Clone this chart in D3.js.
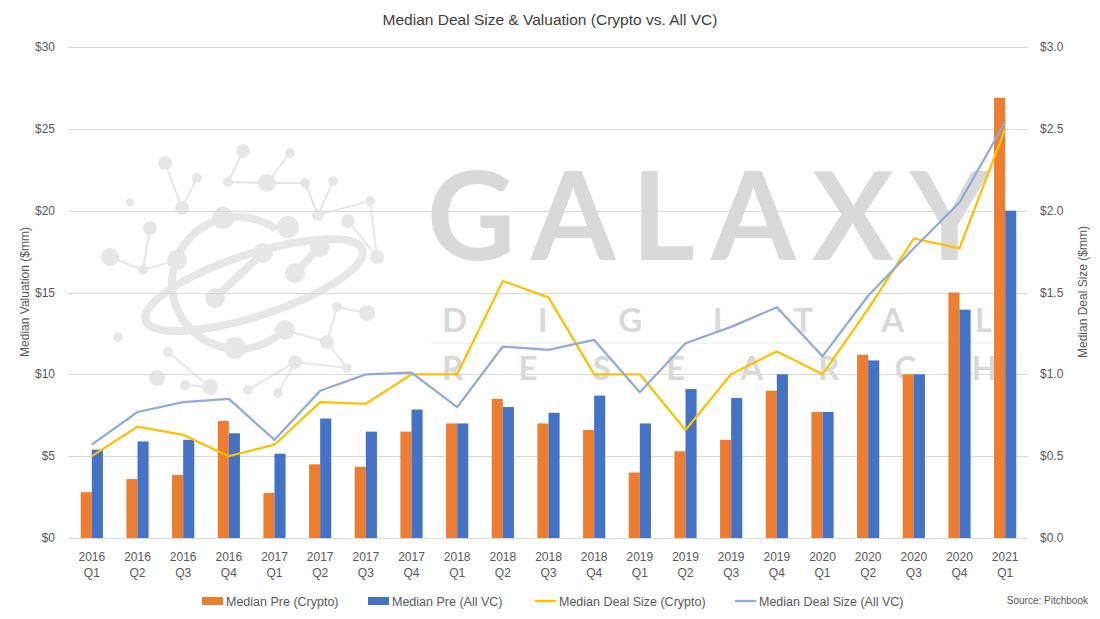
<!doctype html>
<html lang="en">
<head>
  <meta charset="utf-8">
  <script src="https://d3js.org/d3.v7.min.js"></script>
  <style>
    body { margin: 0; background: #fff; }
    text { font-family: "Liberation Sans", Arial, sans-serif; }
  </style>
</head>
<body>
  <script>
    // ---- data ----
    var years = ["2016","2016","2016","2016","2017","2017","2017","2017","2018","2018","2018","2018",
                 "2019","2019","2019","2019","2020","2020","2020","2020","2021"];
    var quarters = ["Q1","Q2","Q3","Q4","Q1","Q2","Q3","Q4","Q1","Q2","Q3","Q4",
                    "Q1","Q2","Q3","Q4","Q1","Q2","Q3","Q4","Q1"];
    var preCrypto = [2.8, 3.6, 3.85, 7.15, 2.75, 4.5, 4.35, 6.5, 7.0, 8.5, 7.0, 6.6,
                     4.0, 5.3, 6.0, 9.0, 7.7, 11.2, 10.0, 15.0, 26.9];
    var preAllVC = [5.4, 5.9, 6.0, 6.4, 5.15, 7.3, 6.5, 7.85, 7.0, 8.0, 7.65, 8.7,
                    7.0, 9.1, 8.55, 10.0, 7.7, 10.85, 10.0, 13.95, 20.0];
    var dealCrypto = [0.5, 0.68, 0.63, 0.5, 0.57, 0.83, 0.82, 1.0, 1.0, 1.57, 1.47, 1.0,
                      1.0, 0.66, 1.0, 1.14, 1.0, 1.40, 1.83, 1.77, 2.5];
    var dealAllVC = [0.57, 0.77, 0.83, 0.85, 0.60, 0.90, 1.0, 1.01, 0.80, 1.17, 1.15, 1.21,
                     0.89, 1.19, 1.29, 1.41, 1.11, 1.48, 1.77, 2.05, 2.54];
    var leftTicks = [0, 5, 10, 15, 20, 25, 30];
    var rightTicks = [0, 0.5, 1.0, 1.5, 2.0, 2.5, 3.0];
    var seriesNames = ["Median Pre (Crypto)", "Median Pre (All VC)",
                       "Median Deal Size (Crypto)", "Median Deal Size (All VC)"];
    var colors = ["#ED7D31", "#4472C4", "#FFC000", "#8FAADC"];

    var width = 1100, height = 619;
    var x0 = 69, x1 = 1028, yTop = 47, yBot = 538;

    var svg = d3.select("body").append("svg")
        .attr("width", width)
        .attr("height", height);

    // ---- watermark (logo + wordmark), drawn first so it sits underneath ----
    var wm = svg.append("g").attr("id", "watermark");
    var logoCol = "#e7e7e7";
    var links = [[165,163,182,208],[197,178,182,208],[243,151,228,182],[228,182,267,183],
                 [290,153,267,183],[267,183,305,183],[305,183,318,215],[333,181,318,215],
                 [318,215,370,201],[370,201,377,257],[348,221,377,257],[150,228,143,270],
                 [110,257,143,270],[143,270,177,260],[337,307,327,342],[337,307,367,313],
                 [327,342,285,330],[327,342,347,368],[168,352,210,387],[185,385,210,387],
                 [295,362,248,390],[295,362,278,393],[295,362,347,368]];
    var nodes = [[165,163,7],[197,178,5],[182,208,7],[130,202,4],[243,151,7],[228,182,5],
                 [267,183,9],[290,153,5],[305,183,5],[333,181,5],[318,215,6],[370,201,5],
                 [348,221,7],[377,257,7],[150,228,7],[110,257,9],[143,270,5],[177,260,10],
                 [223,218,11],[288,227,11],[320,247,10],[263,253,10],[295,273,10],[215,298,10],
                 [285,330,10],[235,348,11],[327,342,7],[337,307,5],[367,313,8],[347,368,5],
                 [118,337,5],[168,352,5],[157,378,8],[210,387,8],[185,385,5],[295,362,7],
                 [248,390,5],[278,393,5]];
    wm.selectAll("line.lk").data(links).enter().append("line")
        .attr("x1", d => d[0]).attr("y1", d => d[1])
        .attr("x2", d => d[2]).attr("y2", d => d[3])
        .style("stroke", logoCol).style("stroke-width", 2);
    wm.append("path")
        .attr("transform", "translate(238,283)")
        .attr("d", d3.arc().innerRadius(62).outerRadius(70).startAngle(2.5).endAngle(6.9)())
        .style("fill", logoCol);
    wm.append("ellipse")
        .attr("cx", 254).attr("cy", 285).attr("rx", 114).attr("ry", 31)
        .attr("transform", "rotate(-18,254,285)")
        .style("fill", "none").style("stroke", logoCol).style("stroke-width", 8);
    wm.append("line").attr("x1", 215).attr("y1", 298).attr("x2", 263).attr("y2", 253)
        .style("stroke", logoCol).style("stroke-width", 8).style("stroke-linecap", "round");
    wm.append("line").attr("x1", 295).attr("y1", 273).attr("x2", 320).attr("y2", 247)
        .style("stroke", logoCol).style("stroke-width", 8).style("stroke-linecap", "round");
    wm.selectAll("circle.nd").data(nodes).enter().append("circle")
        .attr("cx", d => d[0]).attr("cy", d => d[1]).attr("r", d => d[2])
        .style("fill", logoCol);

    var wmText = "#d9d9d9";
    wm.append("text").text("GALAXY")
        .attr("x", 427).attr("y", 260)
        .attr("textLength", 562).attr("lengthAdjust", "spacing")
        .style("font-family", "Lato, 'Open Sans', sans-serif")
        .style("font-weight", "bold")
        .style("font-size", "122px").style("fill", wmText);
    wm.append("text").text("DIGITAL")
        .attr("x", 442).attr("y", 332)
        .attr("textLength", 550).attr("lengthAdjust", "spacing")
        .style("font-family", "Lato, 'Open Sans', sans-serif")
        .style("font-weight", "bold")
        .style("font-size", "33px").style("fill", wmText);
    wm.append("line").attr("x1", 430).attr("x2", 1000).attr("y1", 343).attr("y2", 343)
        .style("stroke", "#ececec").style("stroke-width", 1);
    wm.append("text").text("RESEARCH")
        .attr("x", 442).attr("y", 380)
        .attr("textLength", 555).attr("lengthAdjust", "spacing")
        .style("font-family", "Lato, 'Open Sans', sans-serif")
        .style("font-weight", "bold")
        .style("font-size", "33px").style("fill", wmText);

    // ---- scales ----
    var x = d3.scaleBand().domain(d3.range(years.length)).range([x0, x1]).padding(0);
    var yL = d3.scaleLinear().domain([0, 30]).range([yBot, yTop]);
    var yR = d3.scaleLinear().domain([0, 3]).range([yBot, yTop]);
    var bw = x.bandwidth() * 0.243;

    // gridlines
    svg.append("g").selectAll("line").data(leftTicks).enter().append("line")
        .attr("x1", x0 - 1).attr("x2", x1)
        .attr("y1", d => Math.round(yL(d)) + 0.5).attr("y2", d => Math.round(yL(d)) + 0.5)
        .style("stroke", "#d9d9d9").style("stroke-width", 1);

    // left axis labels
    svg.append("g").selectAll("text").data(leftTicks).enter().append("text")
        .attr("x", 55).attr("y", d => yL(d) + 4)
        .attr("text-anchor", "end")
        .style("font-size", "12px").style("fill", "#595959")
        .text(d => "$" + d);
    // right axis labels
    svg.append("g").selectAll("text").data(rightTicks).enter().append("text")
        .attr("x", 1040).attr("y", d => yR(d) + 4)
        .style("font-size", "12px").style("fill", "#595959")
        .text(d => "$" + d.toFixed(1));

    // bars
    svg.append("g").selectAll("rect").data(preCrypto).enter().append("rect")
        .attr("x", (d, i) => x(i) + x.bandwidth() / 2 - bw)
        .attr("width", bw)
        .attr("y", d => yL(d)).attr("height", d => yBot - yL(d))
        .style("fill", colors[0]);
    svg.append("g").selectAll("rect").data(preAllVC).enter().append("rect")
        .attr("x", (d, i) => x(i) + x.bandwidth() / 2)
        .attr("width", bw)
        .attr("y", d => yL(d)).attr("height", d => yBot - yL(d))
        .style("fill", colors[1]);

    // lines
    var line = d3.line()
        .x((d, i) => x(i) + x.bandwidth() / 2)
        .y(d => yR(d));
    svg.append("path").datum(dealCrypto)
        .attr("d", line)
        .style("fill", "none").style("stroke", colors[2])
        .style("stroke-width", 2.25).style("stroke-linejoin", "round");
    svg.append("path").datum(dealAllVC)
        .attr("d", line)
        .style("fill", "none").style("stroke", colors[3])
        .style("stroke-width", 2.25).style("stroke-linejoin", "round");

    // category labels (two lines)
    var cat = svg.append("g").selectAll("text").data(years).enter().append("text")
        .attr("text-anchor", "middle")
        .style("font-size", "12px").style("fill", "#595959");
    cat.append("tspan")
        .attr("x", (d, i) => x(i) + x.bandwidth() / 2).attr("y", 561)
        .text(d => d);
    cat.append("tspan")
        .attr("x", (d, i) => x(i) + x.bandwidth() / 2).attr("y", 577)
        .text((d, i) => quarters[i]);

    // title
    svg.append("text")
        .attr("x", 550).attr("y", 25)
        .attr("text-anchor", "middle")
        .style("font-size", "15.5px").style("fill", "#404040")
        .text("Median Deal Size & Valuation (Crypto vs. All VC)");

    // axis titles
    svg.append("text")
        .attr("transform", "translate(29,292) rotate(-90)")
        .attr("text-anchor", "middle")
        .style("font-size", "12px").style("fill", "#595959")
        .text("Median Valuation ($mm)");
    svg.append("text")
        .attr("transform", "translate(1087,292) rotate(-90)")
        .attr("text-anchor", "middle")
        .style("font-size", "12px").style("fill", "#595959")
        .text("Median Deal Size ($mm)");

    // legend
    var legX = [202, 368, 535, 735];
    var leg = svg.append("g").selectAll("g").data(seriesNames).enter().append("g")
        .attr("transform", (d, i) => "translate(" + legX[i] + ",601)");
    leg.filter((d, i) => i < 2).append("rect")
        .attr("x", 0).attr("y", -4).attr("width", 21).attr("height", 8)
        .style("fill", (d, i) => colors[i]);
    leg.filter((d, i) => i >= 2).append("line")
        .attr("x1", 0).attr("x2", 21).attr("y1", 0).attr("y2", 0)
        .style("stroke", (d, i) => colors[i + 2]).style("stroke-width", 2.25);
    leg.append("text")
        .attr("x", 24).attr("y", 4.5)
        .style("font-size", "12.5px").style("fill", "#595959")
        .text(d => d);

    svg.append("text")
        .attr("x", 1088).attr("y", 604)
        .attr("text-anchor", "end")
        .style("font-size", "10px").style("fill", "#595959")
        .text("Source: Pitchbook");
  </script>
</body>
</html>
